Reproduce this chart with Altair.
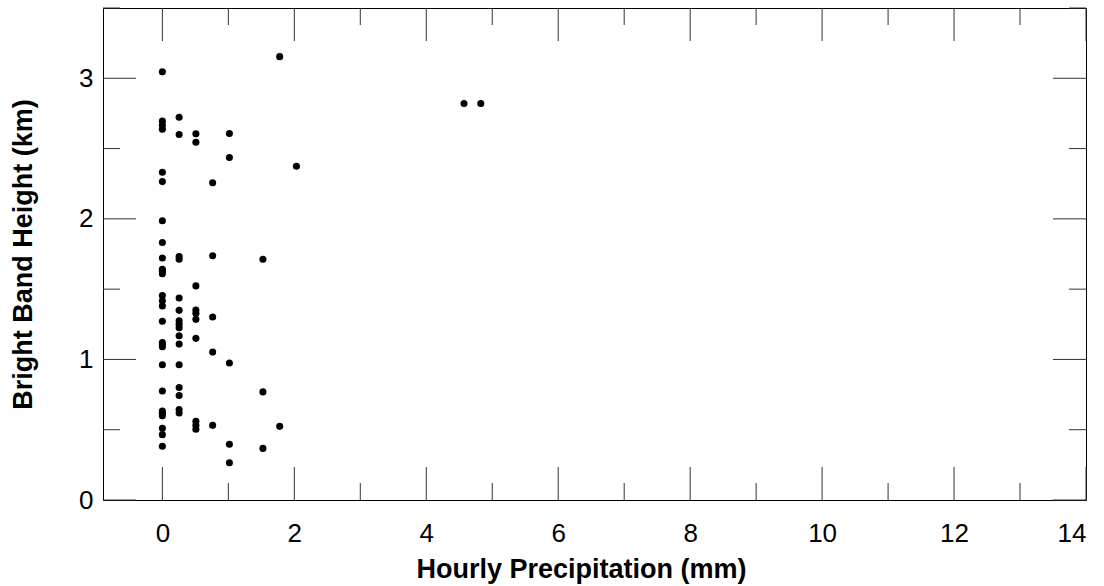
import altair as alt
import pandas as pd

# Hourly precipitation (mm) and bright band height (km)
precip = (
    [0.0] * 27
    + [0.254] * 16
    + [0.508] * 10
    + [0.762] * 5
    + [1.016] * 5
    + [1.524] * 3
    + [1.778] * 2
    + [2.032]
    + [4.572, 4.826]
)
height = (
    # x = 0
    [3.047, 2.695, 2.666, 2.638, 2.331, 2.265, 1.986, 1.832, 1.722, 1.641,
     1.625, 1.610, 1.454, 1.418, 1.380, 1.271, 1.121, 1.105, 1.090, 0.962,
     0.776, 0.633, 0.617, 0.600, 0.510, 0.465, 0.382]
    # x = 0.254
    + [2.723, 2.600, 1.732, 1.713, 1.437, 1.349, 1.275, 1.250, 1.225, 1.168,
       1.109, 0.962, 0.800, 0.743, 0.643, 0.619]
    # x = 0.508
    + [2.605, 2.545, 1.523, 1.352, 1.328, 1.285, 1.150, 0.560, 0.531, 0.503]
    # x = 0.762
    + [2.257, 1.737, 1.302, 1.052, 0.531]
    # x = 1.016
    + [2.607, 2.436, 0.974, 0.396, 0.265]
    # x = 1.524
    + [1.713, 0.769, 0.367]
    # x = 1.778
    + [3.154, 0.524]
    # x = 2.032
    + [2.374]
    # far points
    + [2.82, 2.82]
)

x_major = [0, 2, 4, 6, 8, 10, 12, 14]
x_minor = [1, 3, 5, 7, 9, 11, 13]
y_major = [0, 1, 2, 3]
y_minor = [0.5, 1.5, 2.5, 3.5]

W, H = 983, 492
MAJOR, MINOR = 33, 17
TICK = "#333333"
FONT = "Liberation Sans"

df = pd.DataFrame({"precip": precip, "height": height})

xscale = alt.Scale(domain=[-0.9, 14], nice=False, zero=False)
yscale = alt.Scale(domain=[0, 3.5], nice=False, zero=False)

x_axis = alt.Axis(
    values=x_major,
    title="Hourly Precipitation (mm)",
    labelPadding=20,
    titleX=478,
    titleY=77,
    titleBaseline="alphabetic",
)
y_axis = alt.Axis(
    values=y_major,
    title="Bright Band Height (km)",
    labelPadding=10,
    titleAngle=270,
    titleX=-72,
    titleY=246,
    titleBaseline="alphabetic",
)

points = alt.Chart(df).mark_circle(size=50, color="black", opacity=1).encode(
    x=alt.X("precip:Q", scale=xscale, axis=x_axis),
    y=alt.Y("height:Q", scale=yscale, axis=y_axis),
)


def xticks(vals, length, top):
    d = pd.DataFrame({"precip": vals})
    y0, y1 = (0, length) if top else (H, H - length)
    return alt.Chart(d).mark_rule(color=TICK, strokeWidth=1).encode(
        x=alt.X("precip:Q", scale=xscale, axis=x_axis),
        y=alt.value(y0),
        y2=alt.value(y1),
    )


def yticks(vals, length, right):
    d = pd.DataFrame({"height": vals})
    x0, x1 = (W, W - length) if right else (0, length)
    return alt.Chart(d).mark_rule(color=TICK, strokeWidth=1).encode(
        y=alt.Y("height:Q", scale=yscale, axis=y_axis),
        x=alt.value(x0),
        x2=alt.value(x1),
    )


chart = (
    alt.layer(
        points,
        xticks(x_major, MAJOR, False),
        xticks(x_major, MAJOR, True),
        xticks(x_minor, MINOR, False),
        xticks(x_minor, MINOR, True),
        yticks(y_major, MAJOR, False),
        yticks(y_major, MAJOR, True),
        yticks(y_minor, MINOR, False),
        yticks(y_minor, MINOR, True),
    )
    .properties(
        width=W,
        height=H,
        autosize=alt.AutoSizeParams(type="none"),
        padding={"left": 103, "top": 8, "right": 18, "bottom": 86},
        background="white",
    )
    .configure_view(stroke="black", strokeWidth=1)
    .configure_axis(
        grid=False,
        domain=False,
        ticks=False,
        tickSize=0,
        labelFont=FONT,
        labelFontSize=26,
        labelColor="black",
        titleFont=FONT,
        titleFontSize=27,
        titleFontWeight="bold",
        titleColor="black",
    )
)

chart.save("out.html", embed_options={"renderer": "svg", "actions": False})
